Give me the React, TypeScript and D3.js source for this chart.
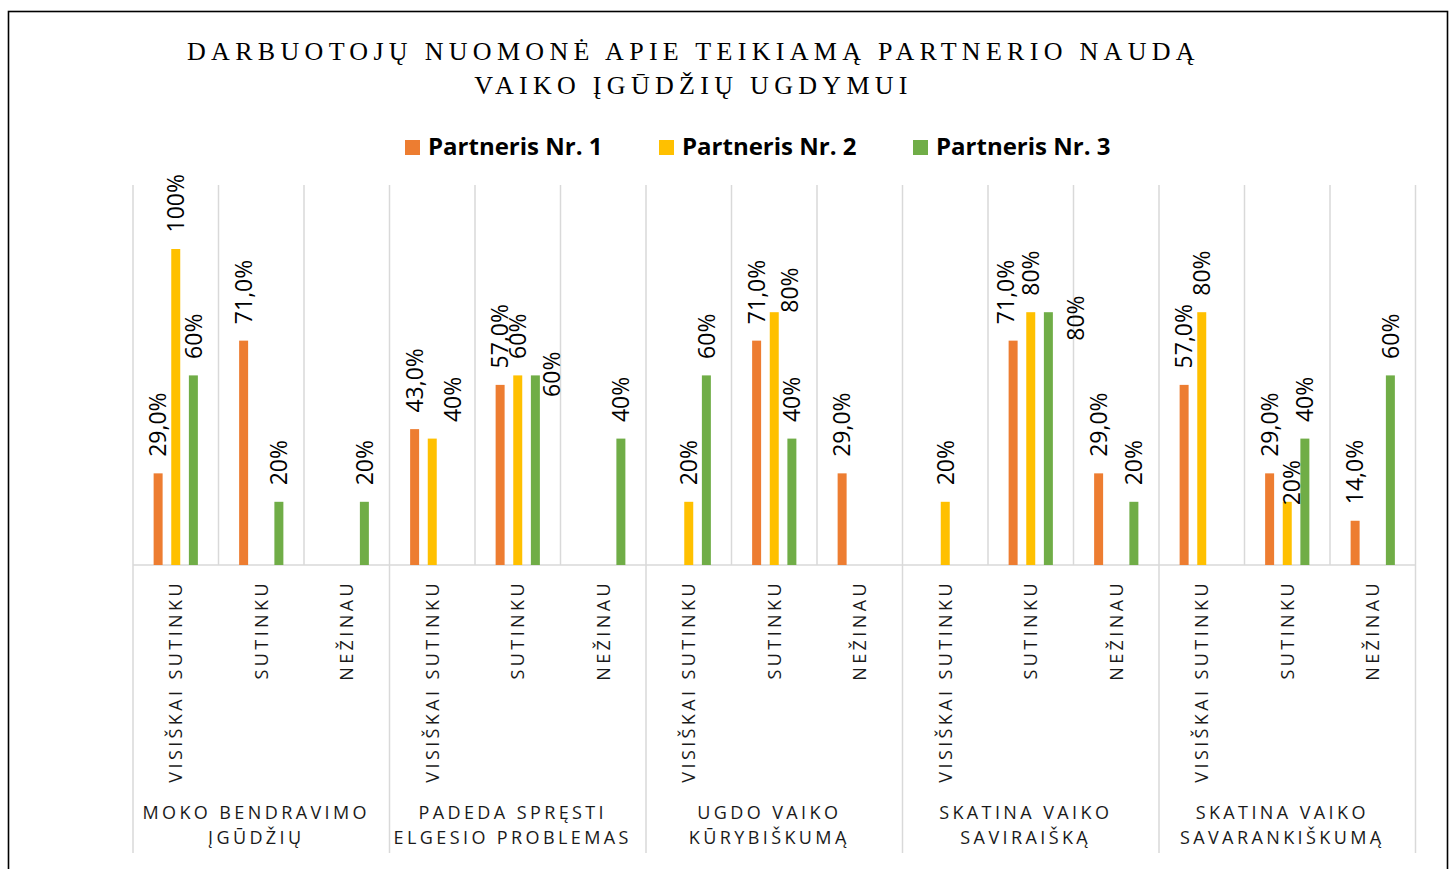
import React from "react";
import * as d3 from "d3";

const title = ["DARBUOTOJŲ NUOMONĖ APIE TEIKIAMĄ PARTNERIO NAUDĄ", "VAIKO ĮGŪDŽIŲ UGDYMUI"];
const seriesNames = ["Partneris Nr. 1", "Partneris Nr. 2", "Partneris Nr. 3"];
const seriesColors = ["#ED7D31", "#FFC000", "#70AD47"];
const answers = ["VISIŠKAI SUTINKU", "SUTINKU", "NEŽINAU"];
const groups = [
  ["MOKO BENDRAVIMO", "ĮGŪDŽIŲ"],
  ["PADEDA SPRĘSTI", "ELGESIO PROBLEMAS"],
  ["UGDO VAIKO", "KŪRYBIŠKUMĄ"],
  ["SKATINA VAIKO", "SAVIRAIŠKĄ"],
  ["SKATINA VAIKO", "SAVARANKIŠKUMĄ"],
];
const partner1: (number | null)[] = [0.29, 0.71, null, 0.43, 0.57, null, null, 0.71, 0.29, null, 0.71, 0.29, 0.57, 0.29, 0.14];
const partner2: (number | null)[] = [1.0, null, null, 0.4, 0.6, null, 0.2, 0.8, null, 0.2, 0.8, null, 0.8, 0.2, null];
const partner3: (number | null)[] = [0.6, 0.2, 0.2, null, 0.6, 0.4, 0.6, 0.4, null, null, 0.8, 0.2, null, 0.4, 0.6];
const seriesValues = [partner1, partner2, partner3];

// manual label nudges (category index, series index) -> [dx, dy] as in the source chart
const labelNudges: Record<string, [number, number]> = {
  "3-1": [20, 0],
  "4-2": [16, 38],
  "7-1": [15, 17],
  "10-0": [-7, 0],
  "10-2": [27, 45],
  "13-1": [4, 20],
};

const W = 1452;
const H = 869;
const FONT = "'Open Sans', sans-serif";

export default function App() {
  const cats = groups.flatMap((_, g) => answers.map((_, a) => `${g}-${a}`));
  const x0 = d3.scaleBand<string>().domain(cats).range([133, 1415.5]).paddingInner(0).paddingOuter(0);
  const x1 = d3
    .scaleBand<number>()
    .domain([0, 1, 2])
    .range([0, x0.bandwidth()])
    .paddingInner(0.49)
    .paddingOuter(1.17);
  const y = d3.scaleLinear().domain([0, 1]).range([565, 249]);
  const fmt1 = d3.format(".1%");
  const fmt0 = d3.format(".0%");
  const fmtLabel = (s: number, v: number) => (s === 0 ? fmt1(v).replace(".", ",") : fmt0(v));

  const plotTop = 185;
  const plotBottom = y(0);
  const axisBottom = 853;
  const bw = x0.bandwidth();
  const boundaries = d3.range(cats.length + 1).map((i) => (x0(cats[0]) as number) + i * bw);
  const groupW = bw * answers.length;

  return (
    <svg width={W} height={H} style={{ position: "absolute", left: 0, top: 0, background: "#fff" }}>
      <rect x={0} y={0} width={W} height={H} fill="#fff" />
      <rect x={8.5} y={11.5} width={1439} height={900} fill="none" stroke="#000" strokeWidth={1.6} />

      {/* title */}
      {title.map((t, i) => (
        <text
          key={i}
          x={693.5}
          y={59.5 + i * 34}
          textAnchor="middle"
          fontFamily="'Liberation Serif', 'Times New Roman', serif"
          fontSize={26}
          letterSpacing={5.3}
          fill="#000"
        >
          {t}
        </text>
      ))}

      {/* legend */}
      {seriesNames.map((n, i) => (
        <g key={n} transform={`translate(${405 + i * 254},0)`}>
          <rect x={0} y={140} width={15} height={15} fill={seriesColors[i]} />
          <text x={23} y={155} fontFamily={FONT} fontWeight={700} fontSize={24} fill="#000">
            {n}
          </text>
        </g>
      ))}

      {/* gridlines */}
      {boundaries.map((bx, i) => (
        <line
          key={i}
          x1={bx}
          x2={bx}
          y1={plotTop}
          y2={i % answers.length === 0 ? axisBottom : plotBottom}
          stroke="#d9d9d9"
          strokeWidth={1.5}
        />
      ))}
      <line x1={boundaries[0]} x2={boundaries[boundaries.length - 1]} y1={plotBottom} y2={plotBottom} stroke="#d9d9d9" strokeWidth={1.5} />

      {/* bars */}
      {seriesValues.map((vals, s) =>
        vals.map((v, c) =>
          v == null ? null : (
            <rect
              key={`b${s}-${c}`}
              x={(x0(cats[c]) as number) + (x1(s) as number)}
              y={y(v)}
              width={x1.bandwidth()}
              height={plotBottom - y(v)}
              fill={seriesColors[s]}
            />
          )
        )
      )}

      {/* data labels */}
      {seriesValues.map((vals, s) =>
        vals.map((v, c) => {
          if (v == null) return null;
          const nudge = labelNudges[`${c}-${s}`] || [0, 0];
          const cx = (x0(cats[c]) as number) + (x1(s) as number) + x1.bandwidth() / 2 + nudge[0];
          const ty = y(v) - 16.5 + nudge[1];
          return (
            <text
              key={`l${s}-${c}`}
              transform={`translate(${cx},${ty}) rotate(-90)`}
              dy="0.36em"
              textAnchor="start"
              fontFamily={FONT}
              fontSize={23}
              fill="#000"
            >
              {fmtLabel(s, v)}
            </text>
          );
        })
      )}

      {/* category labels */}
      {cats.map((c, i) => {
        const cx = (x0(c) as number) + bw / 2;
        return (
          <text
            key={`c${c}`}
            transform={`translate(${cx},${580}) rotate(-90)`}
            dy="0.36em"
            textAnchor="end"
            fontFamily={FONT}
            fontSize={18}
            letterSpacing={3.4}
            fill="#1a1a1a"
          >
            {answers[i % answers.length]}
          </text>
        );
      })}

      {/* group labels */}
      {groups.map((lines, g) => {
        const gx = boundaries[g * answers.length] + groupW / 2 - 5;
        return lines.map((ln, j) => (
          <text
            key={`g${g}-${j}`}
            x={gx}
            y={819 + j * 25}
            textAnchor="middle"
            fontFamily={FONT}
            fontSize={18}
            letterSpacing={3.4}
            fill="#1a1a1a"
          >
            {ln}
          </text>
        ));
      })}
    </svg>
  );
}
